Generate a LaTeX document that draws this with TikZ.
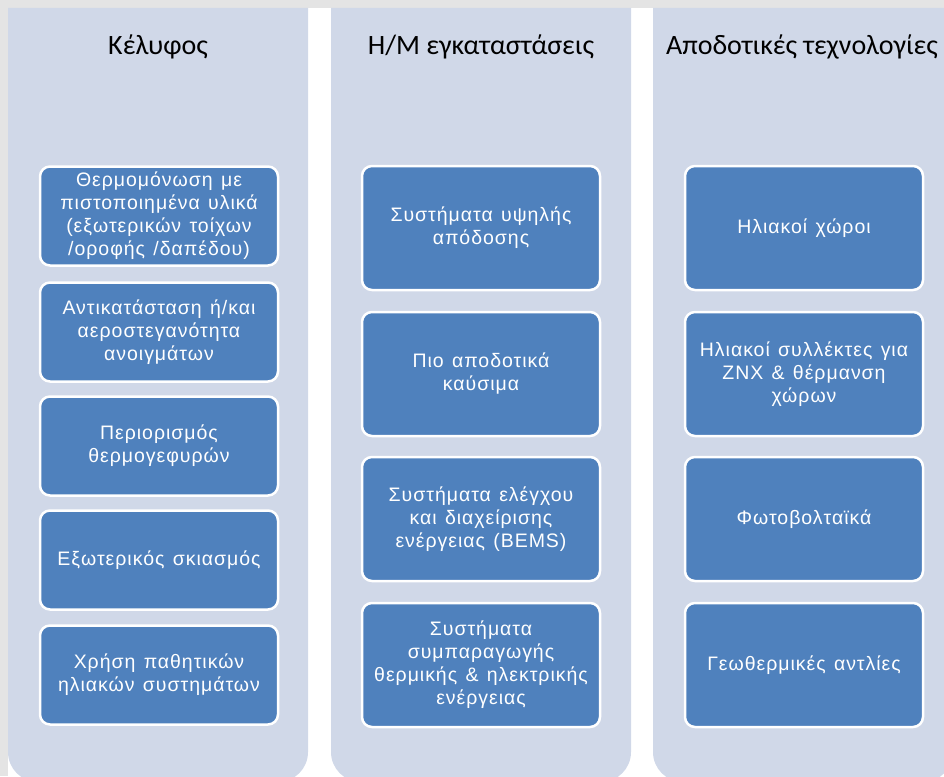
\documentclass[tikz,border=0pt]{standalone}
\usepackage{fontspec}
\setmainfont{Liberation Sans}[LetterSpace=5, WordSpace=1.3]
\newfontfamily\titlefont{Carlito}
\definecolor{framegray}{HTML}{E4E4E4}
\definecolor{colfill}{HTML}{D0D8E8}
\definecolor{boxblue}{HTML}{4F81BD}
\begin{document}
\begin{tikzpicture}[
  x=1pt, y=-1pt,
  title/.style={font=\titlefont\fontsize{28}{30}\selectfont, anchor=base},
  item/.style={rectangle, rounded corners=10pt, draw=white, line width=2.5pt, fill=boxblue,
    text=white, align=center, inner sep=2pt, minimum width=238pt,
    font=\fontsize{19.5}{23}\selectfont},
  short/.style={item, minimum height=99pt},
  tall/.style={item, minimum height=124pt}
]
\useasboundingbox (0,0) rectangle (944,776);
\clip (0,0) rectangle (944,776);
% background and frame
\fill[white] (0,0) rectangle (944,776);
\fill[framegray] (0,0) rectangle (944,8);
\fill[framegray] (0,0) rectangle (8,776);
% columns
\fill[colfill] (8,8) [rounded corners=30pt] -- (8,782) -- (308,782) [sharp corners] -- (308,8) -- cycle;
\fill[colfill] (331,8) [rounded corners=30pt] -- (331,782) -- (631,782) [sharp corners] -- (631,8) -- cycle;
\fill[colfill] (653,8) [rounded corners=30pt] -- (653,782) -- (953,782) [sharp corners] -- (953,8) -- cycle;

% titles
\node[title] (kelyfos) at (158,55) {Κέλυφος};
\node[title] (hm) at (481,55) {Η/Μ εγκαταστάσεις};
\node[title] (tech) at (802,55) {Αποδοτικές τεχνολογίες};

% column 1
\node[short] (insul) at (159,216) {Θερμομόνωση με\\πιστοποιημένα υλικά\\(εξωτερικών τοίχων\\/οροφής /δαπέδου)};
\node[short] (windows) at (159,332) {Αντικατάσταση ή/και\\αεροστεγανότητα\\ανοιγμάτων};
\node[short] (bridges) at (159,446) {Περιορισμός\\θερμογεφυρών};
\node[short] (shading) at (159,560) {Εξωτερικός σκιασμός};
\node[short] (passive) at (159,675) {Χρήση παθητικών\\ηλιακών συστημάτων};

% column 2
\node[tall] (highperf) at (481,228) {Συστήματα υψηλής\\απόδοσης};
\node[tall] (fuels) at (481,374) {Πιο αποδοτικά\\καύσιμα};
\node[tall] (bems) at (481,519) {Συστήματα ελέγχου\\και διαχείρισης\\ενέργειας (BEMS)};
\node[tall] (chp) at (481,665) {Συστήματα\\συμπαραγωγής\\θερμικής \& ηλεκτρικής\\ενέργειας};

% column 3
\node[tall] (sunspace) at (804,228) {Ηλιακοί χώροι};
\node[tall] (collect) at (804,374) {Ηλιακοί συλλέκτες για\\ΖΝΧ \& θέρμανση\\χώρων};
\node[tall] (pv) at (804,519) {Φωτοβολταϊκά};
\node[tall] (geo) at (804,665) {Γεωθερμικές αντλίες};
\end{tikzpicture}
\end{document}
